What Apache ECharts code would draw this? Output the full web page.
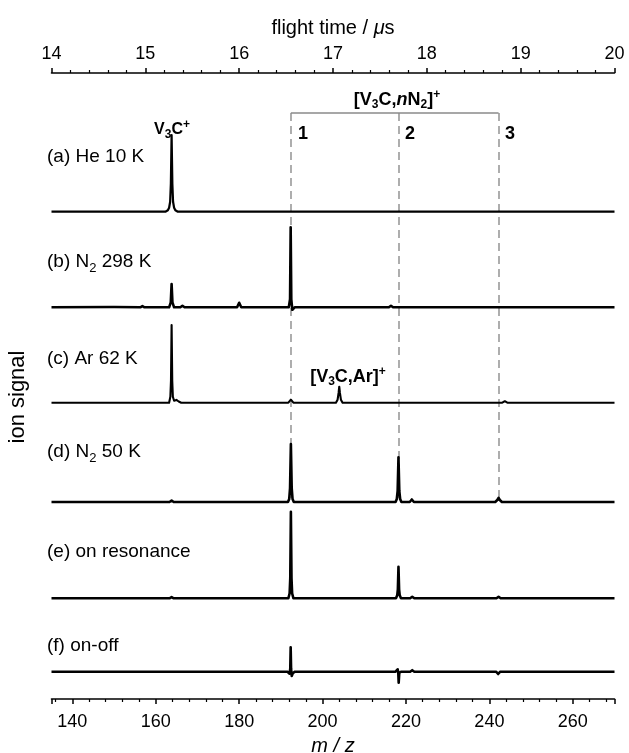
<!DOCTYPE html>
<html>
<head>
<meta charset="utf-8">
<script src="https://cdn.jsdelivr.net/npm/echarts@6/dist/echarts.min.js"></script>
<style>
html,body{margin:0;padding:0;background:#fff;}
#c{width:629px;height:753px;}
</style>
</head>
<body>
<div id="c"></div>
<script>
// ---------- data (m/z, ion signal relative to each trace's own baseline) ----------
const mzTicks = [140, 160, 180, 200, 220, 240, 260];
const flightTicks = [14, 15, 16, 17, 18, 19, 20];
const n2PeakMz = [192.4, 218.2, 242.2];      // [V3C,nN2]+ n = 1, 2, 3
const n2PeakLabels = ['1', '2', '3'];

const traceA = [ // (a) He 10 K
  [135,0],[162.3,0],[162.9,1.5],[163.2,4],[163.45,10],[163.62,28],[163.8,76.7],
  [163.98,28],[164.15,10],[164.4,4],[164.7,1.5],[165.3,0],[270,0]
];
const traceB = [ // (b) N2 298 K
  [135,0],[150,0.3],[156.3,0],[156.8,1.2],[157.3,0],[163.2,0],[163.6,5],[163.8,23.3],
  [164.0,5],[164.4,0],[165.9,0],[166.4,1.5],[166.9,0],[179.5,0],[180.0,4.5],[180.5,0],
  [191.9,0],[192.2,8],[192.35,80],[192.5,8],[192.75,-2.5],[193.3,0],[215.9,0],[216.4,1.5],
  [216.9,0],[270,0]
];
const traceC = [ // (c) Ar 62 K
  [135,0],[163.2,0],[163.5,6],[163.65,22],[163.8,77.7],[163.95,22],[164.1,6],[164.4,2],
  [164.95,2.8],[165.5,1.2],[166.1,0],[191.8,0],[192.4,3],[193.0,0],
  [203.2,0],[203.6,3],[203.85,10],[204.0,16],[204.15,10],[204.4,3],[204.8,0],
  [243.1,0],[243.7,1.5],[244.3,0],[270,0]
];
const traceD = [ // (d) N2 50 K
  [135,0],[163.3,0],[163.8,1.5],[164.3,0],[191.7,0],[192.0,3],[192.2,14],[192.4,58],
  [192.6,14],[192.8,3],[193.1,0],[217.5,0],[217.8,3],[218.0,11],[218.2,44.7],[218.4,11],
  [218.6,3],[218.9,0],[220.9,0],[221.4,2.5],[221.9,0],[241.4,0],[241.9,2],[242.2,4.2],
  [242.5,2],[243.0,0],[270,0]
];
const traceE = [ // (e) on resonance
  [135,0],[163.3,0],[163.8,1.2],[164.3,0],[191.8,0],[192.1,5],[192.25,20],[192.4,86.6],
  [192.55,20],[192.7,5],[193.0,0],[217.6,0],[217.9,3],[218.05,9],[218.2,31.6],[218.35,9],
  [218.5,3],[218.8,0],[221.0,0],[221.5,1.5],[222.0,0],[241.7,0],[242.2,1.5],[242.7,0],
  [270,0]
];
const traceF = [ // (f) on-off
  [135,0],[191.6,0],[192.1,-2],[192.25,3],[192.35,24.4],[192.45,3],[192.6,-4.3],
  [192.85,-1.5],[193.4,0],[217.5,0],[218.0,2.4],[218.15,-1],[218.25,-11],[218.4,-1],
  [218.9,0],[221.0,0],[221.5,1.5],[222.0,0],[241.6,0],[242.1,-2.3],[242.6,0],[270,0]
];

// ---------- layout (not data) ----------
const traces = [traceA, traceB, traceC, traceD, traceE, traceF];
const offsets = [487.3, 391.7, 296.3, 197, 100.7, 27.3];
const widths = [2.2, 2.6, 2.1, 2.6, 2.6, 2.6];
const bracketY = 586;
const dashBottomY = 199;
const FONT = '"Liberation Sans", Arial, Helvetica, sans-serif';

const chart = echarts.init(document.getElementById('c'), null, {renderer: 'canvas'});

const series = [];
series.push({
  type: 'line', data: [], xAxisIndex: 0, yAxisIndex: 0, silent: true, animation: false,
  z: 1,
  markLine: {
    silent: true, animation: false, symbol: ['none', 'none'], z: 1,
    label: {show: false},
    emphasis: {disabled: true},
    lineStyle: {color: '#9a9a9a', width: 1.6, type: [8, 5]},
    data: n2PeakMz.map(m => [
      {coord: [m, bracketY]}, {coord: [m, dashBottomY]}
    ]).concat([[
      {coord: [n2PeakMz[0], bracketY], lineStyle: {type: 'solid', color: '#8a8a8a'}},
      {coord: [n2PeakMz[2], bracketY]}
    ]])
  }
});
traces.forEach((t, i) => series.push({
  type: 'line',
  xAxisIndex: 0, yAxisIndex: 0,
  data: t.map(p => [p[0], p[1] + offsets[i]]),
  showSymbol: false, symbol: 'none',
  lineStyle: {color: '#000', width: widths[i], join: 'round'},
  silent: true, animation: false, z: 5
}));

const axisCommon = {
  type: 'value',
  axisLine: {show: true, lineStyle: {color: '#000', width: 1.6}},
  axisTick: {show: true, length: 5, lineStyle: {color: '#000', width: 1.5}},
  minorTick: {show: true, splitNumber: 5, length: 3, lineStyle: {color: '#000', width: 1.2}},
  splitLine: {show: false},
  minorSplitLine: {show: false},
  nameLocation: 'middle'
};

const subRich = {
  sub: {fontSize: 13, padding: [13, 0, 0, 0], fontFamily: FONT, fill: '#000'},
  sup: {fontSize: 13, padding: [0, 0, 11, 0], fontFamily: FONT, fill: '#000'}
};
const boldRich = {
  sub: {fontSize: 12, fontWeight: 'bold', padding: [10, 0, 0, 0], fontFamily: FONT, fill: '#000'},
  sup: {fontSize: 12, fontWeight: 'bold', padding: [0, 0, 10, 0], fontFamily: FONT, fill: '#000'},
  it: {fontSize: 18, fontWeight: 'bold', fontStyle: 'italic', fontFamily: FONT, fill: '#000'}
};

function label(x, y, text, opts) {
  opts = opts || {};
  return {
    type: 'text', x: x, y: y, silent: true, z: 10,
    rotation: opts.rotation || 0,
    style: {
      text: text, fill: '#000', fontFamily: FONT,
      fontSize: opts.size || 19, fontWeight: opts.bold ? 'bold' : 'normal',
      align: opts.align || 'left', verticalAlign: 'middle',
      rich: opts.bold ? boldRich : subRich
    }
  };
}

const traceLabels = [
  '(a) He 10 K', '(b) N{sub|2} 298 K', '(c) Ar 62 K',
  '(d) N{sub|2} 50 K', '(e) on resonance', '(f) on-off'
];
const labelY = [156.7, 261.7, 358.3, 452, 551.7, 646];

const graphics = traceLabels.map((t, i) => label(47, labelY[i], t));
graphics.push(label(172, 130, 'V{sub|3}C{sup|+}', {bold: true, size: 16, align: 'center'}));
graphics.push(label(397, 100, '[V{sub|3}C,{it|n}N{sub|2}]{sup|+}', {bold: true, size: 18, align: 'center'}));
graphics.push(label(348, 377, '[V{sub|3}C,Ar]{sup|+}', {bold: true, size: 18, align: 'center'}));
const numX = [298, 405, 505];
n2PeakLabels.forEach((t, i) => graphics.push(label(numX[i], 134, t, {bold: true, size: 18})));
graphics.push(label(18, 397, 'ion signal', {size: 22, align: 'center', rotation: Math.PI / 2}));

chart.setOption({
  animation: false,
  backgroundColor: '#fff',
  textStyle: {fontFamily: FONT, color: '#000'},
  grid: {left: 51.5, right: 14.5, top: 73, bottom: 54, outerBoundsMode: 'none', containLabel: false},
  xAxis: [
    Object.assign({}, axisCommon, {
      position: 'bottom',
      min: 135, max: 270, splitNumber: 7,
      axisLabel: {
        color: '#000', fontSize: 18, fontFamily: FONT, margin: 14,
        formatter: v => mzTicks.indexOf(v) >= 0 ? String(v) : ''
      },
      name: 'm / z', nameGap: 37,
      nameTextStyle: {color: '#000', fontSize: 20, fontStyle: 'italic', fontFamily: FONT}
    }),
    Object.assign({}, axisCommon, {
      position: 'top',
      min: flightTicks[0], max: flightTicks[flightTicks.length - 1], interval: 1,
      axisLabel: {
        color: '#000', fontSize: 18, fontFamily: FONT, margin: 10,
        formatter: v => flightTicks.indexOf(v) >= 0 ? String(v) : ''
      },
      name: 'flight time / {i|μ}s', nameGap: 35,
      nameTextStyle: {
        color: '#000', fontSize: 20, fontFamily: FONT,
        rich: {i: {fontStyle: 'italic', fontSize: 20, fontFamily: FONT, color: '#000'}}
      }
    })
  ],
  yAxis: {
    type: 'value', min: 0, max: 626, show: true,
    axisLine: {show: false}, axisTick: {show: false}, axisLabel: {show: false},
    splitLine: {show: false}
  },
  series: series,
  graphic: graphics
});
</script>
</body>
</html>
